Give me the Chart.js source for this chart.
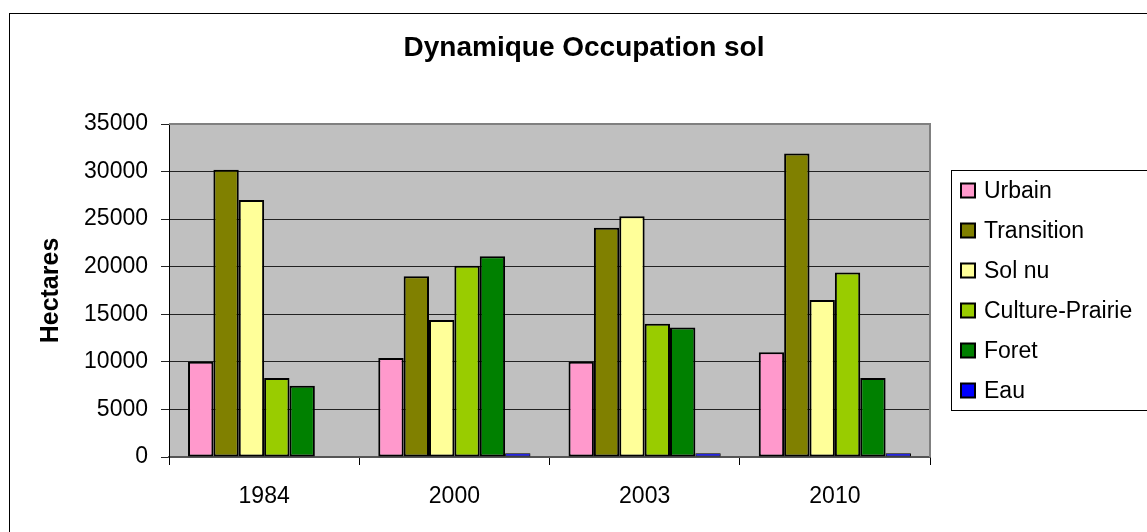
<!DOCTYPE html>
<html>
<head>
<meta charset="utf-8">
<script src="https://cdn.jsdelivr.net/npm/chart.js@4/dist/chart.umd.min.js"></script>
<style>
  html, body { margin: 0; padding: 0; background: #fff; }
  #wrap { width: 1147px; height: 532px; }
</style>
</head>
<body>
<div id="wrap"><canvas id="chart" width="1147" height="532"></canvas></div>
<script>
/* Dynamique Occupation sol — grouped bars, Excel look */

const chartTitle = 'Dynamique Occupation sol';
const years = ['1984', '2000', '2003', '2010'];

const urbain     = [10000, 10400, 10000, 11000];
const transition = [30200, 19000, 24100, 31900];
const solNu      = [27000, 14400, 25300, 16500];
const culture    = [8300, 20100, 14000, 19400];
const foret      = [7500, 21100, 13600, 8300];
const eau        = [0, 400, 400, 400];

const seriesNames  = ['Urbain', 'Transition', 'Sol nu', 'Culture-Prairie', 'Foret', 'Eau'];
const seriesValues = [urbain, transition, solNu, culture, foret, eau];
const seriesColors = ['#FF99CC', '#808000', '#FFFF99', '#99CC00', '#008000', '#0000FF'];

const FONT = '"Liberation Sans", Arial, sans-serif';

/* ---- plot background, frames, title, legend ---- */
const excelFrame = {
  id: 'excelFrame',
  beforeDraw(chart) {
    const { ctx, chartArea: a } = chart;
    ctx.save();
    ctx.fillStyle = '#fff';
    ctx.fillRect(0, 0, chart.width, chart.height);
    ctx.strokeStyle = '#000';
    ctx.lineWidth = 1;
    ctx.strokeRect(9.5, 13.5, chart.width + 20, chart.height + 20);
    ctx.fillStyle = '#C0C0C0';
    ctx.fillRect(a.left, a.top, a.right - a.left, a.bottom - a.top);

    ctx.fillStyle = '#000';
    ctx.font = 'bold 28px ' + FONT;
    ctx.textAlign = 'center';
    ctx.textBaseline = 'middle';
    ctx.fillText(chartTitle, 584, 48);
    ctx.restore();
  },
  afterDraw(chart) {
    const { ctx, chartArea: a } = chart;
    ctx.save();
    ctx.strokeStyle = '#808080';
    ctx.lineWidth = 2;
    ctx.beginPath();
    ctx.moveTo(a.left, a.top);
    ctx.lineTo(a.right, a.top);
    ctx.lineTo(a.right, a.bottom);
    ctx.stroke();

    // legend box
    ctx.strokeStyle = '#000';
    ctx.lineWidth = 1;
    ctx.strokeRect(951.5, 170.5, 300, 240);
    ctx.font = '23px ' + FONT;
    ctx.textBaseline = 'middle';
    ctx.textAlign = 'left';
    chart.data.datasets.forEach((ds, i) => {
      const cy = 190.5 + i * 40;
      ctx.fillStyle = ds.backgroundColor;
      ctx.fillRect(961, cy - 7, 14, 14);
      ctx.lineWidth = 2;
      ctx.strokeRect(961, cy - 7, 14, 14);
      ctx.fillStyle = '#000';
      ctx.fillText(ds.label, 984, cy + 1);
    });
    ctx.restore();
  }
};

new Chart(document.getElementById('chart'), {
  type: 'bar',
  data: {
    labels: years,
    datasets: seriesNames.map((name, i) => ({
      label: name,
      data: seriesValues[i],
      backgroundColor: seriesColors[i],
      borderColor: '#000',
      borderWidth: name === 'Eau' ? 1 : 2,
      borderSkipped: false,
      barPercentage: 1.0,
      categoryPercentage: 0.8,
    })),
  },
  options: {
    responsive: false,
    devicePixelRatio: 1,
    animation: false,
    layout: { padding: { left: 0, top: 124, right: 217, bottom: 0 } },
    plugins: {
      legend: { display: false },
      tooltip: { enabled: false },
      title: { display: false },
    },
    scales: {
      x: {
        afterFit: s => { s.height = 75; },
        grid: { offset: true, drawOnChartArea: false, tickLength: 8, color: '#000', lineWidth: 1 },
        border: { color: '#555', width: 2 },
        ticks: { color: '#000', font: { family: FONT, size: 23 }, padding: 18 },
      },
      y: {
        min: 0,
        max: 35000,
        afterFit: s => { s.width = 169; },
        ticks: {
          stepSize: 5000,
          color: '#000',
          font: { family: FONT, size: 23 },
          padding: 13,
          callback: v => String(v),
        },
        grid: { color: '#222', lineWidth: 1, tickLength: 8 },
        border: { color: '#000', width: 1 },
        title: {
          display: true,
          text: 'Hectares',
          color: '#000',
          font: { family: FONT, size: 25, weight: 'bold' },
          padding: { top: 36, bottom: 0 },
        },
      },
    },
  },
  plugins: [excelFrame],
});
</script>
</body>
</html>
